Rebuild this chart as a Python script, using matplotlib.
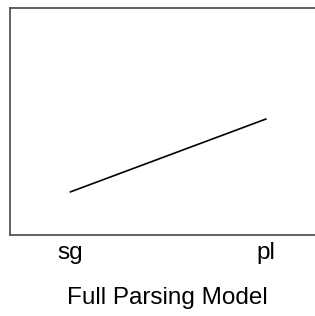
import matplotlib
matplotlib.use("Agg")
import matplotlib.pyplot as plt

categories = ["sg", "pl"]
values = [0.19, 0.51]
title = "Full Parsing Model"

plt.rcParams['font.family'] = ['Liberation Sans', 'DejaVu Sans']

fig = plt.figure(figsize=(3.15, 3.16), dpi=100)
ax = fig.add_axes([0.032, 0.256, 0.975, 0.72])
x = list(range(len(categories)))
ax.plot(x, values, color='black', linewidth=1.2)
ax.set_xlim(-0.309, 1.263)
ax.set_ylim(0, 1)
ax.set_xticks(x)
ax.set_xticklabels(categories, fontsize=17.5)
ax.tick_params(axis='x', length=0, pad=5)
ax.set_yticks([])
for s in ['left', 'top', 'bottom', 'right']:
    ax.spines[s].set_color('#555555')
    ax.spines[s].set_linewidth(1.3)
ax.set_xlabel(title, fontsize=17.5)
ax.xaxis.set_label_coords(0.512, -0.228, transform=ax.transAxes)
fig.savefig("out.png", dpi=100)
